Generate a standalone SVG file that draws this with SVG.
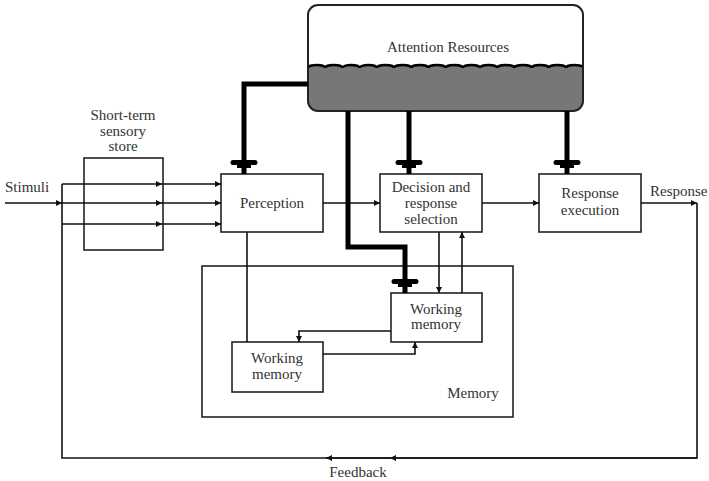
<svg xmlns="http://www.w3.org/2000/svg" width="709" height="481" viewBox="0 0 709 481">
<defs>
<style>
text{font-family:'Liberation Serif','DejaVu Serif',serif;font-size:15px;fill:#333;}
.c{text-anchor:middle;}
.box{fill:#fff;stroke:#222;stroke-width:1.6;}
.ln{fill:none;stroke:#111;stroke-width:1.6;}
.thick{fill:none;stroke:#000;stroke-width:5;}
.tbar{fill:#000;}
</style>
<marker id="ah" viewBox="0 0 8 8" refX="8" refY="4" markerWidth="6" markerHeight="6" markerUnits="userSpaceOnUse" orient="auto">
<path d="M0,0 L8,4 L0,8 Z" fill="#111"/>
</marker>
<clipPath id="tankclip"><rect x="308" y="5" width="275" height="106" rx="10"/></clipPath>
<symbol id="tb" overflow="visible"><path d="M-11,0 H11 A2.5,2.5 0 0 1 11,5 H7 V8 H2.5 V14 H-2.5 V8 H-7 V5 H-11 A2.5,2.5 0 0 1 -11,0 Z"/></symbol>
</defs>

<g id="attention">
<rect x="308" y="5" width="275" height="106" rx="10" fill="#fff"/>
<path clip-path="url(#tankclip)" fill="#777" d="M308,68 a8.6,3 0 0 1 17.2,0 a8.6,3 0 0 1 17.2,0 a8.6,3 0 0 1 17.2,0 a8.6,3 0 0 1 17.2,0 a8.6,3 0 0 1 17.2,0 a8.6,3 0 0 1 17.2,0 a8.6,3 0 0 1 17.2,0 a8.6,3 0 0 1 17.2,0 a8.6,3 0 0 1 17.2,0 a8.6,3 0 0 1 17.2,0 a8.6,3 0 0 1 17.2,0 a8.6,3 0 0 1 17.2,0 a8.6,3 0 0 1 17.2,0 a8.6,3 0 0 1 17.2,0 a8.6,3 0 0 1 17.2,0 a8.6,3 0 0 1 17.2,0 L583,112 L308,112 Z"/>
<path clip-path="url(#tankclip)" fill="none" stroke="#000" stroke-width="2.5" d="M308,68 a8.6,3 0 0 1 17.2,0 a8.6,3 0 0 1 17.2,0 a8.6,3 0 0 1 17.2,0 a8.6,3 0 0 1 17.2,0 a8.6,3 0 0 1 17.2,0 a8.6,3 0 0 1 17.2,0 a8.6,3 0 0 1 17.2,0 a8.6,3 0 0 1 17.2,0 a8.6,3 0 0 1 17.2,0 a8.6,3 0 0 1 17.2,0 a8.6,3 0 0 1 17.2,0 a8.6,3 0 0 1 17.2,0 a8.6,3 0 0 1 17.2,0 a8.6,3 0 0 1 17.2,0 a8.6,3 0 0 1 17.2,0 a8.6,3 0 0 1 17.2,0"/>
<rect x="308" y="5" width="275" height="106" rx="10" fill="none" stroke="#222" stroke-width="2"/>
<text x="448" y="52" class="c" font-family="Liberation Serif, serif">Attention Resources</text>
</g>

<g id="sensory-store" font-family="Liberation Serif, serif">
<rect x="84" y="158" width="79" height="92" fill="none" stroke="#222" stroke-width="1.6"/>
<text x="123" y="120" class="c">Short-term</text>
<text x="123" y="136" class="c">sensory</text>
<text x="123" y="151" class="c">store</text>
</g>

<g id="memory">
<rect x="202" y="266" width="311" height="151" class="box"/>
<text x="473" y="398" class="c">Memory</text>
</g>

<g id="perception">
<rect x="221" y="174" width="102" height="58" class="box"/>
<text x="272" y="208" class="c">Perception</text>
</g>

<g id="decision">
<rect x="380" y="174" width="102" height="58" class="box"/>
<text x="431" y="192" class="c">Decision and</text>
<text x="431" y="208" class="c">response</text>
<text x="431" y="224" class="c">selection</text>
</g>

<g id="response-execution">
<rect x="539" y="174" width="102" height="58" class="box"/>
<text x="590" y="198" class="c">Response</text>
<text x="590" y="215" class="c">execution</text>
</g>

<g id="wm-upper">
<rect x="391" y="293" width="91" height="49" class="box"/>
<text x="436" y="314" class="c">Working</text>
<text x="436" y="329" class="c">memory</text>
</g>

<g id="wm-lower">
<rect x="232" y="342" width="91" height="50" class="box"/>
<text x="277" y="363" class="c">Working</text>
<text x="277" y="379" class="c">memory</text>
</g>

<g id="labels">
<text x="5" y="192">Stimuli</text>
<text x="650" y="196">Response</text>
<text x="358" y="477" class="c">Feedback</text>
</g>

<g id="connectors">
<path class="ln" d="M5,203 H62" marker-end="url(#ah)"/>
<path class="ln" d="M641,203 H697" marker-end="url(#ah)"/>
<path class="ln" d="M697,203 V458 H62 V184"/>
<path class="ln" d="M697,458 H390" marker-end="url(#ah)"/>
<path class="ln" d="M390,458 H326" marker-end="url(#ah)"/>
<path class="ln" d="M62,184 H162" marker-end="url(#ah)"/>
<path class="ln" d="M62,203 H162" marker-end="url(#ah)"/>
<path class="ln" d="M62,224 H162" marker-end="url(#ah)"/>
<path class="ln" d="M162,184 H221" marker-end="url(#ah)"/>
<path class="ln" d="M162,203 H221" marker-end="url(#ah)"/>
<path class="ln" d="M162,224 H221" marker-end="url(#ah)"/>
<path class="ln" d="M323,203 H380" marker-end="url(#ah)"/>
<path class="ln" d="M482,203 H539" marker-end="url(#ah)"/>
<path class="ln" d="M247,232 V342"/>
<path class="ln" d="M439,232 V293" marker-end="url(#ah)"/>
<path class="ln" d="M462,293 V232" marker-end="url(#ah)"/>
<path class="ln" d="M391,331 H299 V342" marker-end="url(#ah)"/>
<path class="ln" d="M323,354 H415 V342" marker-end="url(#ah)"/>
<path class="thick" d="M308,84 H244 V161"/>
<path class="thick" d="M409,111 V161"/>
<path class="thick" d="M348,111 V247 H405 V280"/>
<path class="thick" d="M567,111 V161"/>
<use href="#tb" x="244" y="160" class="tbar"/>
<use href="#tb" x="409" y="160" class="tbar"/>
<use href="#tb" x="405" y="279" class="tbar"/>
<use href="#tb" x="567" y="160" class="tbar"/>
</g>
</svg>
